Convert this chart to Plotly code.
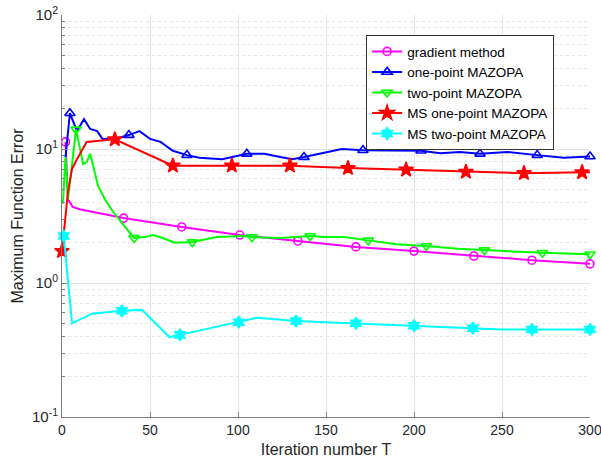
import plotly.graph_objects as go

# ---------------- data ----------------
grad_T = [2, 3.4, 4.5, 6, 10, 20, 35, 68, 101, 134, 167, 200, 234, 267, 300]
grad_err = [11.3, 4.2, 4.0, 3.7, 3.55, 3.35, 3.05, 2.62, 2.28, 2.06, 1.86, 1.73, 1.59, 1.48, 1.39]
grad_mark_T = [2, 35, 68, 101, 134, 167, 200, 234, 267, 300]

one_T = [2, 4.5, 8.5, 12.5, 16, 20, 23, 30, 38, 44, 50, 56, 63, 71, 78, 91, 105, 115,
         124, 131, 137.5, 148, 159, 171, 188, 204, 215, 226, 237.5, 253, 270, 285, 300]
one_err = [8.7, 18.5, 13.6, 16.7, 14.1, 13.6, 11.9, 11.9, 12.7, 13.6, 11.9, 11.3, 9.7, 9.0, 8.6, 8.4, 9.2, 9.2,
           8.7, 8.4, 8.7, 9.3, 10.0, 9.8, 9.7, 9.7, 9.3, 9.5, 9.2, 9.5, 9.0, 8.6, 8.8]
one_mark_T = [4.5, 38, 71, 105, 137.5, 171, 204, 237.5, 270, 300]

two_T = [0.5, 2, 3.4, 8, 12, 14, 16, 20.5, 24.5, 29, 35, 41, 47, 52, 58, 64, 74, 88, 103, 108,
         124, 135, 141, 150, 160, 174, 190, 207, 225, 240, 255, 273, 300]
two_err = [3.9, 8.7, 4.2, 14.0, 7.7, 8.0, 9.2, 5.3, 4.2, 3.4, 2.7, 2.17, 2.2, 2.28, 2.15, 2.0, 2.02, 2.2, 2.24, 2.2,
           2.17, 2.22, 2.24, 2.2, 2.2, 2.08, 1.95, 1.89, 1.8, 1.76, 1.72, 1.68, 1.64]
two_mark_T = [8, 41, 74, 108, 141, 174, 207, 240, 273, 300]

ms_one_T = [0, 3.4, 5.7, 8.5, 14, 30, 63, 96.5, 129.5, 162.5, 195.5, 229.5, 262.5, 295.5, 300]
ms_one_err = [1.73, 4.8, 7.1, 8.4, 11.3, 11.8, 7.5, 7.5, 7.5, 7.2, 7.0, 6.75, 6.6, 6.7, 6.7]
ms_one_mark_T = [0, 30, 63, 96.5, 129.5, 162.5, 195.5, 229.5, 262.5, 295.5]

ms_two_T = [1, 5.7, 17, 34, 45.5, 61, 67, 100.5, 111, 133, 167, 200, 233.5, 250, 267, 300]
ms_two_err = [2.24, 0.5, 0.59, 0.62, 0.63, 0.395, 0.41, 0.51, 0.55, 0.52, 0.5, 0.48, 0.46, 0.45, 0.45, 0.45]
ms_two_mark_T = [1, 34, 67, 100.5, 133, 167, 200, 233.5, 267, 300]

series_names = ["gradient method", "one-point MAZOPA", "two-point MAZOPA",
                "MS one-point MAZOPA", "MS two-point MAZOPA"]

y_tickvals = [0.1, 1, 10, 100]
y_ticktext = ["10<sup>-1</sup>", "10<sup>0</sup>", "10<sup>1</sup>", "10<sup>2</sup>"]
x_tickvals = [0, 50, 100, 150, 200, 250, 300]

# ---------------- styling ----------------
styles = [
    dict(color="#ff00ff", symbol="circle-open", size=8),
    dict(color="#0000ff", symbol="triangle-up-open", size=9),
    dict(color="#00ff00", symbol="triangle-down-open", size=9),
    dict(color="#ff0000", symbol="star", size=11),
    dict(color="#00ffff", symbol="hexagram", size=9),
]
data = [
    (grad_T, grad_err, grad_mark_T),
    (one_T, one_err, one_mark_T),
    (two_T, two_err, two_mark_T),
    (ms_one_T, ms_one_err, ms_one_mark_T),
    (ms_two_T, ms_two_err, ms_two_mark_T),
]

fig = go.Figure()
for name, (T, E, MT), st in zip(series_names, data, styles):
    lw = 2
    mline = dict(width=1.6, color=st["color"])
    fig.add_trace(go.Scatter(x=T, y=E, mode="lines", line=dict(color=st["color"], width=lw),
                             showlegend=False, hoverinfo="skip", cliponaxis=False))
    mx = [t for t in T if t in MT]
    my = [e for t, e in zip(T, E) if t in MT]
    fig.add_trace(go.Scatter(x=mx, y=my, mode="markers", showlegend=False, cliponaxis=False,
                             marker=dict(color=st["color"], symbol=st["symbol"], size=st["size"], line=mline)))
    fig.add_trace(go.Scatter(x=[None], y=[None], mode="lines+markers", name=name,
                             line=dict(color=st["color"], width=lw),
                             marker=dict(color=st["color"], symbol=st["symbol"], size=st["size"], line=mline)))

minor_vals = [m * 10 ** k for k in (-1, 0, 1) for m in range(2, 10)]

axis_col = "#808080"
grid_col = "#e3e3e3"
font_col = "#262626"

fig.update_layout(
    template="none",
    width=601, height=462,
    margin=dict(l=62, r=11, t=15, b=45, pad=0),
    paper_bgcolor="white", plot_bgcolor="white",
    font=dict(family="Liberation Sans, Arial, sans-serif", size=14, color=font_col),
    legend=dict(x=0.576, y=0.95, xanchor="left", yanchor="top",
                bgcolor="white", bordercolor="#333333", borderwidth=1,
                font=dict(size=13.5, color="#000000"), tracegroupgap=0, itemwidth=30),
    xaxis=dict(range=[0, 300], tickmode="array", tickvals=x_tickvals, automargin=False,
               showline=True, linecolor=axis_col, linewidth=1, mirror=False,
               ticks="inside", ticklen=5, tickcolor=axis_col, ticklabeloverflow="allow",
               showgrid=True, gridcolor=grid_col, gridwidth=1, zeroline=False,
               tickfont=dict(size=14, color=font_col),
               title=dict(text="Iteration number T", font=dict(size=16, color=font_col), standoff=7)),
    yaxis=dict(type="log", range=[-1, 2], tickmode="array", tickvals=y_tickvals, ticktext=y_ticktext,
               automargin=False,
               showline=True, linecolor=axis_col, linewidth=1, mirror=False,
               ticks="inside", ticklen=5, tickcolor=axis_col, ticklabeloverflow="allow",
               showgrid=True, gridcolor=grid_col, gridwidth=1, zeroline=False,
               tickfont=dict(size=15, color=font_col),
               minor=dict(tickmode="array", tickvals=minor_vals, ticks="inside", ticklen=3,
                          tickcolor=axis_col, showgrid=True, gridcolor="#e6e6e6", griddash="dot"),
               title=dict(text="Maximum Function Error", font=dict(size=16, color=font_col), standoff=4)),
)

fig.write_html("out.html", config={"displayModeBar": False},
               post_script="document.body.style.margin='0';document.body.style.padding='0';"
                           "document.documentElement.style.overflow='hidden';")
